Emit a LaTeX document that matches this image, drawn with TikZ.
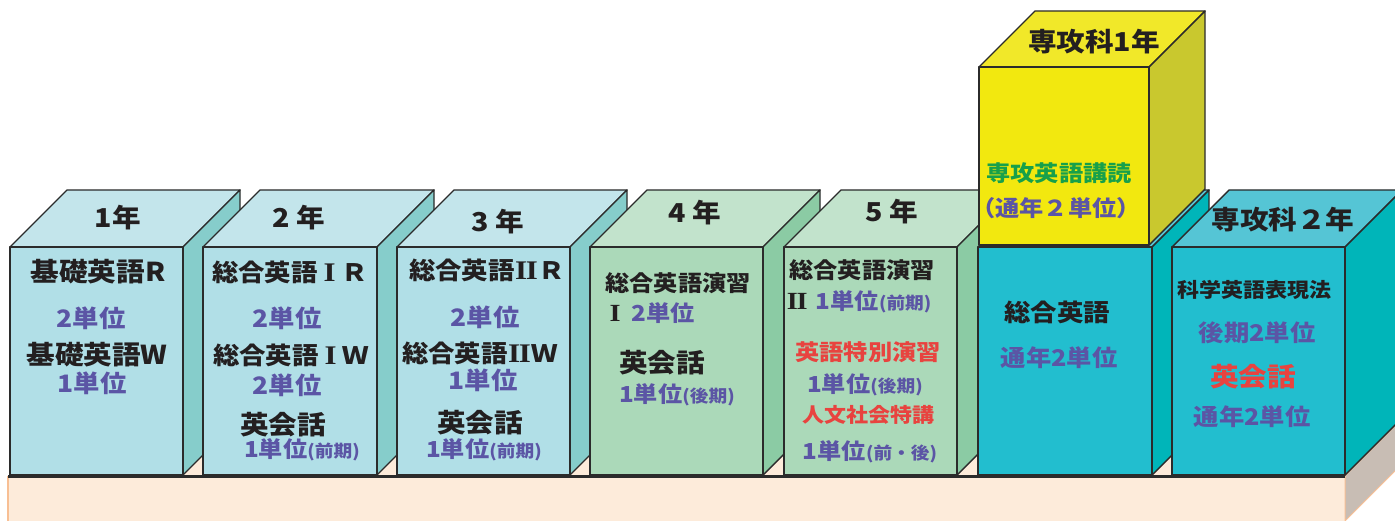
\documentclass[tikz,border=0pt]{standalone}
\usepackage{fontspec}
\setmainfont{Noto Sans CJK JP}[FakeStretch=1.1]
\newfontfamily\rmnum{Liberation Serif}[FakeStretch=1.15]
\definecolor{cyF}{HTML}{B1DFE7}\definecolor{cyT}{HTML}{C3E5EB}\definecolor{cyS}{HTML}{86CDCB}
\definecolor{grF}{HTML}{ABD9B9}\definecolor{grT}{HTML}{C2E3CC}\definecolor{grS}{HTML}{8BCBA4}
\definecolor{tlF}{HTML}{22BECF}\definecolor{tlT}{HTML}{55C5D5}\definecolor{tlS}{HTML}{00B5B9}
\definecolor{ylF}{HTML}{F2E80F}\definecolor{ylT}{HTML}{F1E829}\definecolor{ylS}{HTML}{C9C82E}
\definecolor{baseF}{HTML}{FDEBDA}\definecolor{baseS}{HTML}{C8BDB4}\definecolor{baseE}{HTML}{F8BF94}
\definecolor{edgec}{HTML}{2B2B2B}
\definecolor{tblack}{HTML}{231F20}\definecolor{tblue}{HTML}{5B55A5}
\definecolor{tred}{HTML}{E8433F}\definecolor{tgreen}{HTML}{17A04A}
\newcommand\fs[1]{\fontsize{#1}{#1}\selectfont\bfseries}
\newcommand\sm[1]{{\fs{17}#1}}
\newcommand\rI{\makebox[1em]{\rmnum\bfseries\scalebox{1.12}{I}}}
\newcommand\rII{\makebox[1em]{\rmnum\bfseries\scalebox{1.12}{I\kern-0.05em I}}}
\newcommand\drawcube[8]{%
  \filldraw[edge, fill=#7] (#1,#2) -- ({#1+#5},{#2-#5}) -- ({#3+#5},{#2-#5}) -- (#3,#2) -- cycle;
  \filldraw[edge, fill=#8] (#3,#2) -- ({#3+#5},{#2-#5}) -- ({#3+#5},{#4-#5}) -- (#3,#4) -- cycle;
  \filldraw[edge, fill=#6] (#1,#2) rectangle (#3,#4);}
\begin{document}
\begin{tikzpicture}[x=1pt,y=-1pt,
  edge/.style={draw=edgec, line width=1.4pt, line join=round},
  lbl/.style={inner sep=0pt, text=tblack},
  blu/.style={inner sep=0pt, text=tblue},
  rd/.style={inner sep=0pt, text=tred},
  gn/.style={inner sep=0pt, text=tgreen}]
\useasboundingbox (0,0) rectangle (1395,521);
\begin{scope}
\clip (0,0) rectangle (1395,521);
% base
\fill[baseF] (8,476) -- (65,419) -- (1402,419) -- (1345,476) -- cycle;
\fill[baseF] (8,476) rectangle (1345,530);
\filldraw[fill=baseS, draw=baseE, line width=1pt] (1345,476) -- (1402,419) -- (1402,464) -- (1345,521) -- cycle;
\draw[baseE, line width=2pt] (8,476) -- (8,530);
% boxes
\drawcube{10}{247}{183}{475}{57}{cyF}{cyT}{cyS}
\drawcube{203}{247}{377}{475}{57}{cyF}{cyT}{cyS}
\drawcube{397}{247}{570}{475}{57}{cyF}{cyT}{cyS}
\drawcube{590}{247}{763}{475}{57}{grF}{grT}{grS}
\drawcube{784}{247}{957}{475}{57}{grF}{grT}{grS}
\drawcube{978}{247}{1152}{475}{57}{tlF}{tlT}{tlS}
\drawcube{979}{67}{1149}{245}{56}{ylF}{ylT}{ylS}
\drawcube{1172}{247}{1345}{475}{57}{tlF}{tlT}{tlS}
\draw[edgec, line width=3pt] (8,476.5) -- (1345,476.5);
\end{scope}
% box 1
\node[lbl, font=\fs{26}] (y1) at (118,218) {1年};
\node[lbl, font=\fs{26}] (b1a) at (98,272) {基礎英語R};
\node[blu, font=\fs{24}] (b1b) at (91,318) {2単位};
\node[lbl, font=\fs{26}] (b1c) at (97,355) {基礎英語W};
\node[blu, font=\fs{24}] (b1d) at (92,383) {1単位};
% box 2
\node[lbl, font=\fs{26}] (y2) at (299,218) {2 年};
\node[lbl, font=\fs{24}] (b2a) at (290,272) {総合英語\rI Ｒ};
\node[blu, font=\fs{24}] (b2b) at (287,318) {2単位};
\node[lbl, font=\fs{24}] (b2c) at (291,355) {総合英語\rI Ｗ};
\node[blu, font=\fs{24}] (b2d) at (287,385) {2単位};
\node[lbl, font=\fs{26}] (b2e) at (283,425) {英会話};
\node[blu, font=\fs{22}] (b2f) at (302,450) {1単位\sm{(前期)}};
% box 3
\node[lbl, font=\fs{26}] (y3) at (498,222) {3 年};
\node[lbl, font=\fs{24}] (b3a) at (487,270) {総合英語\rII Ｒ};
\node[blu, font=\fs{24}] (b3b) at (485,317) {2単位};
\node[lbl, font=\fs{24}] (b3c) at (480,353) {総合英語\rII Ｗ};
\node[blu, font=\fs{24}] (b3d) at (483,380) {1単位};
\node[lbl, font=\fs{26}] (b3e) at (480,423) {英会話};
\node[blu, font=\fs{22}] (b3f) at (484,450) {1単位\sm{(前期)}};
% box 4
\node[lbl, font=\fs{26}] (y4) at (695,213) {4 年};
\node[lbl, font=\fs{22}] (b4a) at (678,283) {総合英語演習};
\node[lbl, font=\fs{22}, anchor=west] (b4b) at (604,313) {\rI\hspace{0.25em}\textcolor{tblue}{2単位}};
\node[lbl, font=\fs{26}] (b4c) at (662,363) {英会話};
\node[blu, font=\fs{22}] (b4d) at (677,395) {1単位\sm{(後期)}};
% box 5
\node[lbl, font=\fs{26}] (y5) at (892,212) {5 年};
\node[lbl, font=\fs{22}] (b5a) at (862,270) {総合英語演習};
\node[lbl, font=\fs{22}, anchor=west] (b5b) at (786,302) {\rII\hspace{0.35em}\textcolor{tblue}{1単位\sm{(前期)}}};
\node[rd, font=\fs{22}] (b5c) at (868,352) {英語特別演習};
\node[blu, font=\fs{22}] (b5d) at (865,385) {1単位\sm{(後期)}};
\node[rd, font=\fs{20}] (b5e) at (868,415) {人文社会特講};
\node[blu, font=\fs{22}] (b5f) at (870,452) {1単位\sm{(前・後)}};
% box 6
\node[lbl, font=\fs{24}] (b6a) at (1057,312) {総合英語};
\node[blu, font=\fs{23}] (b6b) at (1059,358) {通年2単位};
% yellow box
\node[lbl, font=\fs{26}] (yy) at (1094,42) {専攻科1年};
\node[gn, font=\fs{22}] (yya) at (1059,173) {専攻英語講読};
\node[blu, font=\fs{22}] (yyb) at (1056,208) {（通年２単位）};
% box 7
\node[lbl, font=\fs{26}] (y7) at (1283,220) {専攻科２年};
\node[lbl, font=\fs{20}] (b7a) at (1254,290) {科学英語表現法};
\node[blu, font=\fs{23}] (b7b) at (1257,333) {後期2単位};
\node[rd, font=\fs{26}] (b7c) at (1253,377) {英会話};
\node[blu, font=\fs{23}] (b7d) at (1252,417) {通年2単位};
\end{tikzpicture}
\end{document}
